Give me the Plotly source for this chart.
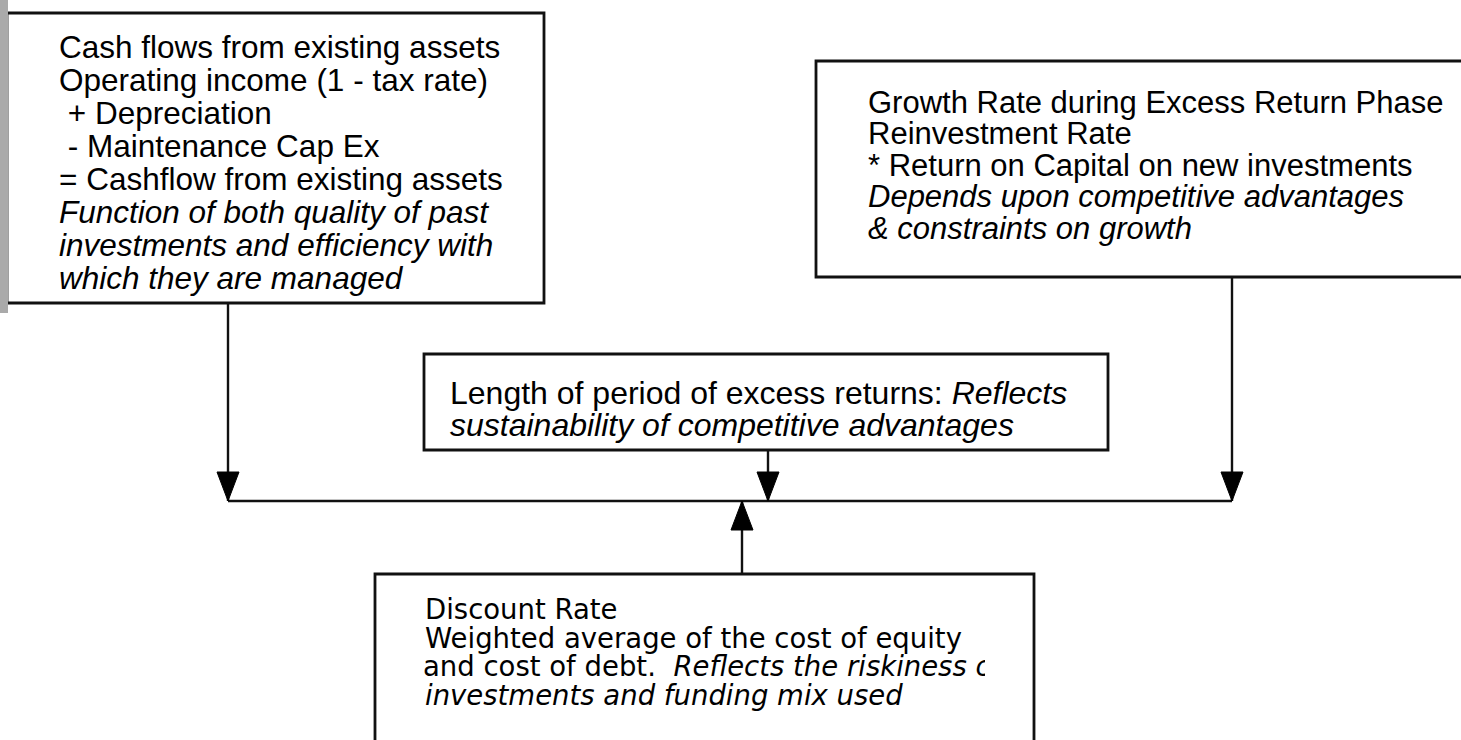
import plotly.graph_objects as go

W, H = 1461, 740
FONT = "Liberation Sans, Arial, Helvetica, sans-serif"
WIDE_FONT = "DejaVu Sans, Verdana, sans-serif"
INK = "#111111"

# ---- content -------------------------------------------------------------
existing_lines = [
    "Cash flows from existing assets",
    "Operating income (1 - tax rate)",
    "\u00a0+ Depreciation",
    "\u00a0- Maintenance Cap Ex",
    "= Cashflow from existing assets",
    "<i>Function of both quality of past</i>",
    "<i>investments and efficiency with</i>",
    "<i>which they are managed</i>",
]
growth_lines = [
    "Growth Rate during Excess Return Phase",
    "Reinvestment Rate",
    "* Return on Capital on new investments",
    "<i>Depends upon competitive advantages</i>",
    "<i>& constraints on growth</i>",
]
length_lines = [
    "Length of period of excess returns: <i>Reflects</i>",
    "<i>sustainability of competitive advantages</i>",
]
discount_lines = [
    "Discount Rate",
    "Weighted average of the cost of equity",
    "and cost of debt.\u00a0 <i>Reflects the riskiness of</i>",
    "<i>investments and funding mix used</i>",
]
box_texts = [existing_lines, growth_lines, length_lines, discount_lines]

# ---- layout of the diagram (pixel units) -------------------------------
box_x0 = [7, 816, 424, 375]
box_y0 = [13, 61, 354, 574]
box_x1 = [544, 1490, 1108, 1034]
box_y1 = [303, 277, 450, 770]
text_x = [57, 866, 448, 423]
text_y0 = [47, 102, 393, 609]
text_dy = [33, 31.5, 32, 28.5]
text_size = [31.5, 31, 32, 27.5]
text_font = [FONT, FONT, FONT, WIDE_FONT]
clipped_line = (3, 2)  # (box, line) drawn clipped like the original frame
clip_right = 985
clip_dy = 3

# connectors: x, start y, end y (arrow tip)
arrow_x = [228, 768, 1232, 742]
arrow_from = [303, 450, 277, 574]
arrow_to = [501, 501, 501, 501]
bus_y = 501
bus_x = [228, 1232]
head_len = 29
head_half = 11

fig = go.Figure()

# boxes
for x0, y0, x1, y1 in zip(box_x0, box_y0, box_x1, box_y1):
    fig.add_shape(type="rect", x0=x0, y0=y0, x1=x1, y1=y1, xref="x", yref="y",
                  line=dict(color=INK, width=2.8), fillcolor="rgba(0,0,0,0)", layer="below")

# gray bar at left edge
fig.add_shape(type="rect", x0=0, x1=8, y0=0, y1=313, xref="x", yref="y",
              line=dict(width=0), fillcolor="#aaaaaa", layer="below")

# connector lines
fig.add_trace(go.Scatter(x=bus_x, y=[bus_y, bus_y], mode="lines",
                         line=dict(color=INK, width=2.4), hoverinfo="skip", showlegend=False))
for ax, a0, a1 in zip(arrow_x, arrow_from, arrow_to):
    fig.add_trace(go.Scatter(x=[ax, ax], y=[a0, a1], mode="lines",
                             line=dict(color=INK, width=2.4), hoverinfo="skip", showlegend=False))
    sgn = 1 if a1 > a0 else -1
    base = a1 - sgn * head_len
    fig.add_trace(go.Scatter(x=[ax - head_half, ax + head_half, ax, ax - head_half],
                             y=[base, base, a1, base], mode="lines", fill="toself",
                             fillcolor="#000000", line=dict(color="#000000", width=1),
                             hoverinfo="skip", showlegend=False))

# texts
annotations = []
for b, lines in enumerate(box_texts):
    for i, t in enumerate(lines):
        y = text_y0[b] + i * text_dy[b]
        if (b, i) == clipped_line:
            fig.add_trace(go.Scatter(x=[text_x[b]], y=[y + clip_dy], mode="text", text=[t],
                                     textposition="middle right", cliponaxis=True,
                                     textfont=dict(family=text_font[b], size=text_size[b],
                                                   color="#000000"),
                                     xaxis="x2", yaxis="y2", hoverinfo="skip", showlegend=False))
            continue
        annotations.append(dict(x=text_x[b], y=y, xref="x", yref="y", text=t,
                                showarrow=False, xanchor="left", yanchor="middle",
                                font=dict(family=text_font[b], size=text_size[b], color="#000000")))

fig.update_layout(
    width=W, height=H,
    margin=dict(l=0, r=0, t=0, b=0, pad=0),
    paper_bgcolor="white", plot_bgcolor="rgba(0,0,0,0)",
    xaxis=dict(range=[0, W], visible=False, fixedrange=True),
    yaxis=dict(range=[H, 0], visible=False, fixedrange=True),
    xaxis2=dict(range=[0, clip_right], domain=[0, clip_right / W], visible=False,
                anchor="y2", fixedrange=True),
    yaxis2=dict(range=[H, 0], domain=[0, 1], visible=False, anchor="x2", fixedrange=True),
    annotations=annotations,
    showlegend=False,
)

fig.write_html("out.html", config={"displayModeBar": False},
               post_script="document.body.style.margin='0px';document.body.style.overflow='hidden';")
